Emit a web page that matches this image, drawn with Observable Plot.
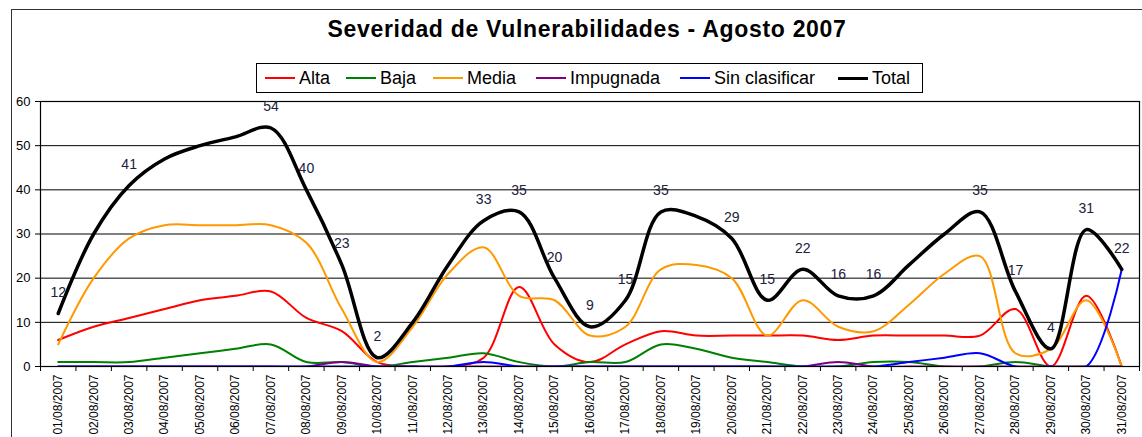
<!DOCTYPE html>
<html>
<head>
<meta charset="utf-8">
<script src="https://cdn.jsdelivr.net/npm/d3@7"></script>
<script src="https://cdn.jsdelivr.net/npm/@observablehq/plot@0.6"></script>
<style>
  html, body { margin: 0; padding: 0; background: #fff; overflow: hidden; width: 1142px; height: 437px; }
  body { position: relative; font-family: "Liberation Sans", Arial, sans-serif; }
  #frame { position: absolute; left: 11px; top: 9px; width: 1300px; height: 600px; border: 1.5px solid #333; box-sizing: border-box; }
  #title { position: absolute; left: 0; width: 1174px; top: 16px; text-align: center; font-size: 23px; letter-spacing: 0.7px; font-weight: bold; color: #000; }
  #legend { position: absolute; left: 256px; top: 63px; width: 667px; height: 30px; border: 1.5px solid #000; box-sizing: border-box; background: #fff; }
  .item { position: absolute; top: 0; height: 28px; display: flex; align-items: center; font-size: 18px; color: #000; white-space: nowrap; }
  .sw { display: inline-block; width: 30px; margin-right: 4px; }
  #chart { position: absolute; left: 0; top: 95px; }
</style>
</head>
<body>
<div id="frame"></div>
<div id="title">Severidad de Vulnerabilidades - Agosto 2007</div>
<div id="legend"></div>
<div id="chart"></div>
<script>
const days = ["01/08/2007","02/08/2007","03/08/2007","04/08/2007","05/08/2007","06/08/2007","07/08/2007","08/08/2007","09/08/2007","10/08/2007","11/08/2007","12/08/2007","13/08/2007","14/08/2007","15/08/2007","16/08/2007","17/08/2007","18/08/2007","19/08/2007","20/08/2007","21/08/2007","22/08/2007","23/08/2007","24/08/2007","25/08/2007","26/08/2007","27/08/2007","28/08/2007","29/08/2007","30/08/2007","31/08/2007"];

const alta          = [6, 9, 11, 13, 15, 16, 17, 11, 8, 1, 0, 0, 2, 18, 5, 1, 5, 8, 7, 7, 7, 7, 6, 7, 7, 7, 7, 13, 0, 16, 0];
const baja          = [1, 1, 1, 2, 3, 4, 5, 1, 1, 0, 1, 2, 3, 1, 0, 1, 1, 5, 4, 2, 1, 0, 0, 1, 1, 0, 0, 1, 0, 0, 0];
const media         = [5, 20, 29, 32, 32, 32, 32, 28, 13, 1, 9, 21, 27, 16, 15, 7, 9, 22, 23, 20, 7, 15, 9, 8, 14, 21, 25, 3, 4, 15, 0];
const impugnada     = [0, 0, 0, 0, 0, 0, 0, 0, 1, 0, 0, 0, 0, 0, 0, 0, 0, 0, 0, 0, 0, 0, 1, 0, 0, 0, 0, 0, 0, 0, 0];
const sinClasificar = [0, 0, 0, 0, 0, 0, 0, 0, 0, 0, 0, 0, 1, 0, 0, 0, 0, 0, 0, 0, 0, 0, 0, 0, 1, 2, 3, 0, 0, 0, 22];
const total         = [12, 30, 41, 47, 50, 52, 54, 40, 23, 2, 10, 23, 33, 35, 20, 9, 15, 35, 34, 29, 15, 22, 16, 16, 23, 30, 35, 17, 4, 31, 22];
// which Total values carry a data label in the original
const totalLabeled  = [1,0,1,0,0,0,1,1,1,1,0,0,1,1,1,1,1,1,0,1,1,1,1,1,0,0,1,1,1,1,1];

const seriesNames  = ["Alta", "Baja", "Media", "Impugnada", "Sin clasificar", "Total"];
const seriesValues = [alta, baja, media, impugnada, sinClasificar, total];
const seriesColors = ["#ff0000", "#008000", "#ff9900", "#800080", "#0000ff", "#000000"];
const yTicks = [0, 10, 20, 30, 40, 50, 60];

// legend
const legendX = [8, 89, 176, 279, 423, 581];
const legend = document.getElementById("legend");
seriesNames.forEach((name, k) => {
  const it = document.createElement("div");
  it.className = "item";
  it.style.left = legendX[k] + "px";
  const sw = document.createElement("span");
  sw.className = "sw";
  sw.style.borderTop = (name === "Total" ? 3.5 : 2) + "px solid " + seriesColors[k];
  it.appendChild(sw);
  it.appendChild(document.createTextNode(name));
  legend.appendChild(it);
});

const rows = [];
seriesNames.forEach((name, k) => {
  seriesValues[k].forEach((v, i) => rows.push({serie: name, day: i + 1, value: v}));
});
const labelRows = total.map((v, i) => ({day: i + 1, value: v, show: totalLabeled[i]})).filter(d => d.show);

const centers = days.map((d, i) => i + 1);
const boundaries = d3.range(0.5, days.length + 1, 1);

const lineMarks = seriesNames.map((name, k) =>
  Plot.line(rows.filter(r => r.serie === name), {
    x: "day", y: "value",
    stroke: seriesColors[k],
    strokeWidth: name === "Total" ? 3.5 : 2,
    curve: "catmull-rom",
    clip: true
  })
);

const chart = Plot.plot({
  width: 1142,
  height: 342,
  marginTop: 6,
  marginLeft: 40,
  marginRight: 3,
  marginBottom: 71,
  style: {fontFamily: "'Liberation Sans', Arial, sans-serif", color: "#000", background: "transparent", overflow: "visible"},
  x: {domain: [0.5, days.length + 0.5], label: null},
  y: {domain: [0, 60], label: null},
  marks: [
    Plot.gridY(yTicks, {stroke: "#000", strokeOpacity: 1, strokeWidth: 1}),
    Plot.frame({stroke: "#000", strokeWidth: 1.2}),
    Plot.axisY(yTicks, {tickSize: 5, tickPadding: 5, fontSize: 13, stroke: "#000"}),
    Plot.axisX(boundaries, {tickSize: 5, tickFormat: () => "", stroke: "#000"}),
    Plot.axisX(centers, {tickSize: 0, tickPadding: 8, tickRotate: -90, fontSize: 12, tickFormat: d => days[d - 1]}),
    ...lineMarks,
    Plot.text(labelRows, {x: "day", y: "value", text: d => String(d.value), dy: -21, fontSize: 14, fill: "#20203a"})
  ]
});
document.getElementById("chart").appendChild(chart);
</script>
</body>
</html>
